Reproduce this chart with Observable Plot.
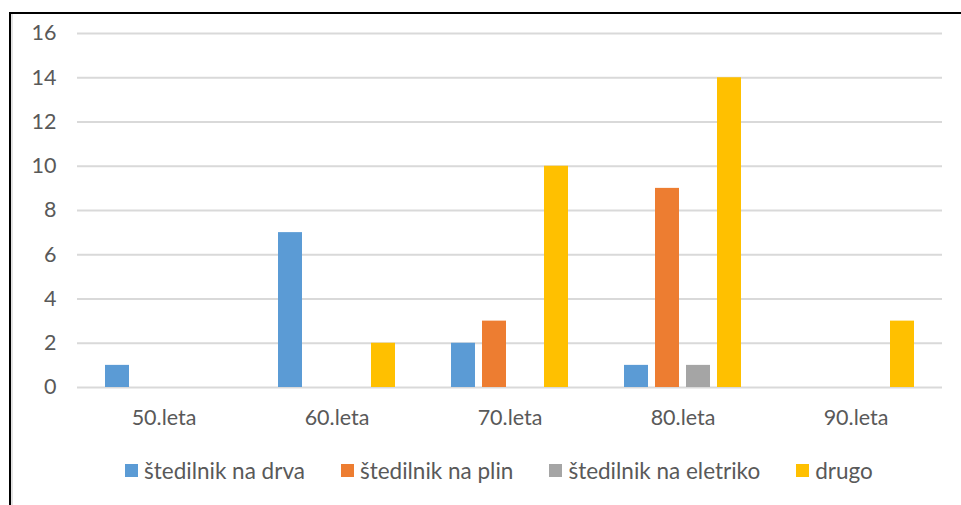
<!DOCTYPE html>
<html>
<head>
<meta charset="utf-8">
<script src="https://cdn.jsdelivr.net/npm/d3@7"></script>
<script src="https://cdn.jsdelivr.net/npm/@observablehq/plot@0.6"></script>
<style>
  html, body { margin: 0; padding: 0; background: #fff; }
  #wrap { position: relative; width: 961px; height: 505px; overflow: hidden; font-family: Lato, "Open Sans", sans-serif; }
  #chart { position: absolute; left: 0; top: 0; }
  #border { position: absolute; left: 9px; top: 12px; width: 960px; height: 500px; border-top: 2px solid #000; border-left: 2px solid #000; box-shadow: inset 2px 0 0 #e3e3e3; pointer-events: none; }
  #legend { position: absolute; left: 125px; top: 457px; height: 26px; display: flex; align-items: center; font-size: 22.5px; color: #595959; white-space: nowrap; }
  .item { display: flex; align-items: center; margin-right: 36px; }
  .sw { width: 13px; height: 13px; margin-right: 6px; }
</style>
</head>
<body>
<div id="wrap">
  <div id="chart"></div>
  <div id="legend"></div>
  <div id="border"></div>
</div>
<script>
const categories = ["50.leta", "60.leta", "70.leta", "80.leta", "90.leta"];
const seriesNames = ["štedilnik na drva", "štedilnik na plin", "štedilnik na eletriko", "drugo"];
const seriesColors = ["#5B9BD5", "#ED7D31", "#A5A5A5", "#FFC000"];
const drva = [1, 7, 2, 1, 0];
const plin = [0, 0, 3, 9, 0];
const eletriko = [0, 0, 0, 1, 0];
const drugo = [0, 2, 10, 14, 3];
const yTicks = [0, 2, 4, 6, 8, 10, 12, 14, 16];

const seriesValues = [drva, plin, eletriko, drugo];
const rows = [];
categories.forEach((c, i) => {
  seriesNames.forEach((s, j) => {
    rows.push({category: c, series: s, value: seriesValues[j][i]});
  });
});

const plot = Plot.plot({
  width: 961,
  height: 445,
  marginLeft: 75,
  marginRight: 18,
  marginTop: 33,
  marginBottom: 58,
  style: {fontFamily: "Lato, 'Open Sans', sans-serif", fontSize: "21.5px", color: "#595959", background: "transparent"},
  fx: {domain: categories, padding: 0, label: null},
  x: {domain: seriesNames, paddingInner: 0.22, paddingOuter: 0.82, axis: null},
  y: {domain: [0, 16], label: null},
  color: {domain: seriesNames, range: seriesColors},
  marks: [
    Plot.gridY(yTicks, {stroke: "#d9d9d9", strokeOpacity: 1, strokeWidth: 2}),
    Plot.barY(rows.filter(d => d.value > 0), {fx: "category", x: "series", y: "value", fill: "series"}),
    Plot.axisY(yTicks, {tickSize: 0, tickPadding: 21, label: null, fontSize: 21.5}),
    Plot.axisFx({anchor: "bottom", tickSize: 0, tickPadding: 22, label: null, fontSize: 21.5})
  ]
});
document.getElementById("chart").appendChild(plot);

const legend = document.getElementById("legend");
seriesNames.forEach((s, i) => {
  const item = document.createElement("div");
  item.className = "item";
  const sw = document.createElement("div");
  sw.className = "sw";
  sw.style.background = seriesColors[i];
  const t = document.createElement("span");
  t.textContent = s;
  item.appendChild(sw);
  item.appendChild(t);
  legend.appendChild(item);
});
</script>
</body>
</html>
